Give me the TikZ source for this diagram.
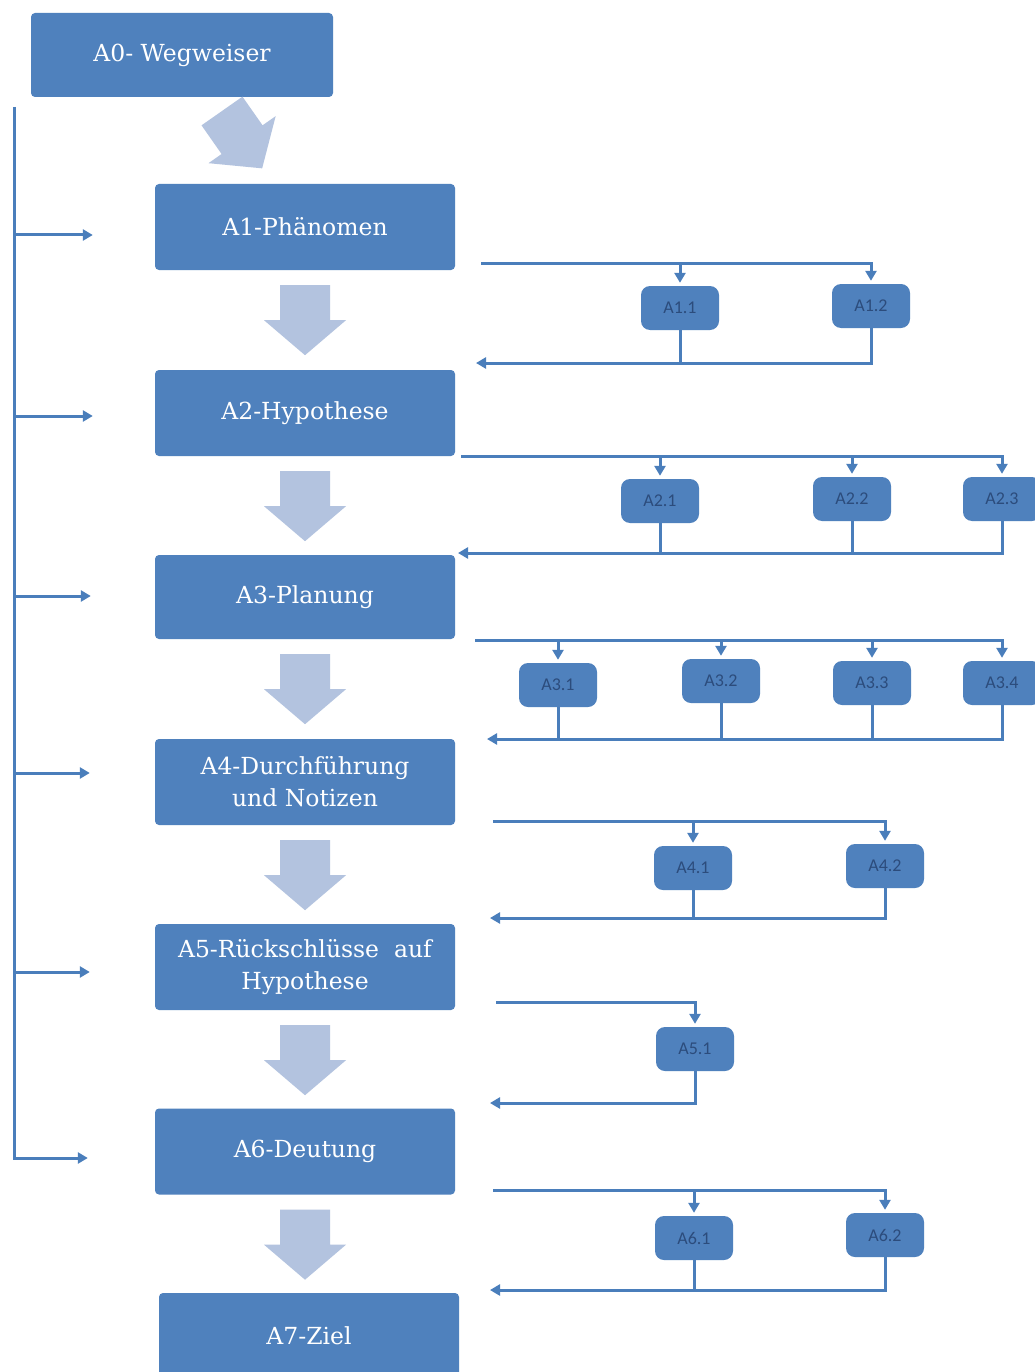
\documentclass[tikz,border=0pt]{standalone}
\usepackage{fontspec}
\newfontfamily\subfont{Carlito}
\newfontfamily\mainfont{DejaVu Serif}
\usetikzlibrary{arrows.meta,calc}

\definecolor{boxblue}{HTML}{4F81BD}
\definecolor{lineblue}{HTML}{4A7EBB}
\definecolor{bigarrow}{HTML}{B3C3DF}
\definecolor{subtext}{HTML}{2C4C7C}

\tikzset{
  main/.style={fill=boxblue,rounded corners=4pt,minimum width=300pt,minimum height=86pt,
               inner sep=0pt,text=white,align=center,font=\mainfont\fontsize{23.5}{32}\selectfont},
  sub/.style={fill=boxblue,rounded corners=9pt,minimum width=78pt,minimum height=44pt,
              inner sep=0pt,text=subtext,font=\subfont\fontsize{18}{20}\selectfont},
  flow/.style={draw=lineblue,line width=3pt},
  tip/.style={-{Triangle[length=10pt,width=11pt]}},
  down/.pic={\fill[bigarrow] (-25,0) -- (25,0) -- (25,35) -- (41,35) -- (0,70) -- (-41,35) -- (-25,35) -- cycle;}
}

\begin{document}
\begin{tikzpicture}[x=1pt,y=-1pt]
\useasboundingbox (0,0) rectangle (1034,1372);
\fill[white] (0,0) rectangle (1034,1372);

\node[main,minimum width=302pt,minimum height=84pt] (a0) at (182,55) {A0- Wegweiser};
\node[main] (a1) at (305,227) {A1-Phänomen};
\node[main] (a2) at (305,413) {A2-Hypothese};
\node[main,minimum height=84pt] (a3) at (305,597) {A3-Planung};
\node[main] (a4) at (305,782) {A4-Durchführung\\und Notizen};
\node[main] (a5) at (305,967) {A5-Rückschlüsse~ auf\\Hypothese};
\node[main] (a6) at (305,1151.5) {A6-Deutung};
\node[main] (a7) at (309,1336) {A7-Ziel};

% big arrows
\pic[rotate=35] at (222,111) {down};
\foreach \n in {a1,a2,a3,a4,a5,a6}
  \pic at ($(\n.south)+(0,15)$) {down};

% left spine
\coordinate (top) at (14,107);
\draw[flow,tip] (top) |- ($(a6.west)+(-67,6.5)$);
\foreach \n/\dy/\dx in {a1/8/62,a2/3/62,a3/-1/64,a4/-9/65,a5/5/65}
  \draw[flow,tip] (top |- {$(\n.west)+(0,\dy)$}) -- ($(\n.west)+(-\dx,\dy)$);

% sub steps
\node[sub] (a11) at (680,308) {A1.1};
\node[sub] (a12) at (871,306) {A1.2};
\node[sub] (a21) at (660,501) {A2.1};
\node[sub] (a22) at (852,499) {A2.2};
\node[sub] (a23) at (1002,499) {A2.3};
\node[sub] (a31) at (558,685) {A3.1};
\node[sub] (a32) at (721,681) {A3.2};
\node[sub] (a33) at (872,683) {A3.3};
\node[sub] (a34) at (1002,683) {A3.4};
\node[sub] (a41) at (693,868) {A4.1};
\node[sub] (a42) at (885,866) {A4.2};
\node[sub] (a51) at (695,1049) {A5.1};
\node[sub] (a61) at (694,1238) {A6.1};
\node[sub] (a62) at (885,1235) {A6.2};

\coordinate (r1in) at (481,263);   \coordinate (r1out) at (476,363);
\coordinate (r2in) at (461,456);   \coordinate (r2out) at (458,553);
\coordinate (r3in) at (475,640);   \coordinate (r3out) at (487,739);
\coordinate (r4in) at (493,821);   \coordinate (r4out) at (490,918);
\coordinate (r5in) at (496,1002);  \coordinate (r5out) at (490,1103);
\coordinate (r6in) at (493,1190);  \coordinate (r6out) at (490,1290);

% in: last box gets the corner, the others a drop
\foreach \r/\last/\rest in {1/a12/{a11},2/a23/{a21,a22},3/a34/{a31,a32,a33},4/a42/{a41},5/a51/{},6/a62/{a61}}{
  \draw[flow,tip,shorten >=3pt] (r\r in) -| (\last.north);
  \draw[flow,tip] (\last.south) |- (r\r out);
  \foreach \s in \rest {
    \draw[flow,tip,shorten >=3pt] (r\r in -| \s.north) -- (\s.north);
    \draw[flow] (\s.south) -- (\s.south |- r\r out);
  }
}
\end{tikzpicture}
\end{document}
